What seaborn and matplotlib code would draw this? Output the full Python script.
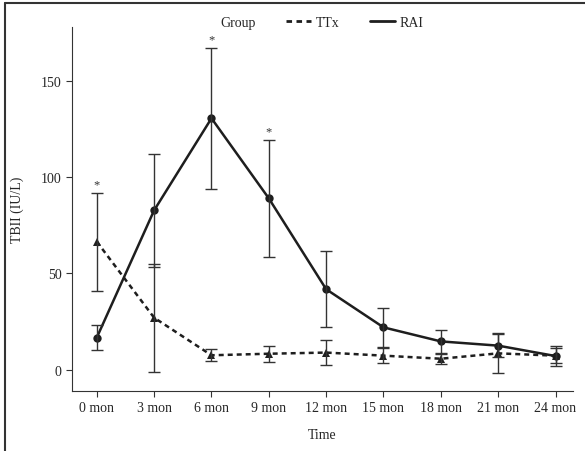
import pandas as pd
import numpy as np
import matplotlib
matplotlib.use("Agg")
import matplotlib.pyplot as plt
from matplotlib.lines import Line2D
import seaborn as sns

months = [0, 3, 6, 9, 12, 15, 18, 21, 24]
tick_labels = [f"{m} mon" for m in months]

ttx_mean = [66.5, 27.0, 7.5, 8.3, 8.9, 7.3, 5.7, 8.5, 7.3]
ttx_err = [25.5, 28.0, 3.2, 4.2, 6.5, 4.0, 2.7, 10.4, 4.0]
rai_mean = [16.7, 82.8, 130.6, 89.0, 41.8, 22.0, 14.7, 12.5, 7.1]
rai_err = [6.3, 29.2, 36.6, 30.4, 19.8, 10.3, 6.0, 6.0, 5.0]

# asterisks above the upper error bar
star_months = [0, 6, 9]
star_tops = [92.0, 167.2, 119.4]

sns.set_style("ticks")
plt.rcParams["font.family"] = ["Liberation Serif", "DejaVu Serif"]

df = pd.DataFrame({
    "Time": months * 2,
    "TBIL": ttx_mean + rai_mean,
    "err": ttx_err + rai_err,
    "Group": ["TTx"] * len(months) + ["RAI"] * len(months),
})

color = "#1e1e1e"
fig = plt.figure(figsize=(5.85, 4.52), dpi=100)
ax = fig.add_axes([0.123, 0.133, 0.856, 0.805])

sns.lineplot(data=df, x="Time", y="TBIL", style="Group", hue="Group",
             palette={"TTx": color, "RAI": color},
             dashes={"TTx": (2, 1.6), "RAI": ""},
             markers={"TTx": "^", "RAI": "o"},
             markersize=6, markeredgewidth=0, linewidth=1.8,
             errorbar=None, legend=False, ax=ax)

for g in ["TTx", "RAI"]:
    sub = df[df["Group"] == g]
    ax.errorbar(sub["Time"], sub["TBIL"], yerr=sub["err"], fmt="none",
                ecolor="#333333", elinewidth=1.0, capsize=4, capthick=1.0)

for m, t in zip(star_months, star_tops):
    ax.text(m, t + 4.5, "*", ha="center", va="center", fontsize=9, color="#333333")

ax.set_xlim(-1.3, 24.9)
ax.set_ylim(-11, 178)
ax.set_xticks(months)
ax.set_xticklabels(tick_labels, fontsize=10)
ax.set_yticks([0, 50, 100, 150])
ax.tick_params(axis="y", labelsize=10)
ax.set_xlabel("Time", fontsize=10, labelpad=10)
ax.set_ylabel("TBII (IU/L)", fontsize=10, labelpad=12)
sns.despine(ax=ax)
for s in ["left", "bottom"]:
    ax.spines[s].set_color("#333333")
ax.tick_params(color="#333333", length=4)

handles = [
    Line2D([], [], color="none"),
    Line2D([], [], color=color, linestyle=(0, (2, 1.6)), linewidth=2),
    Line2D([], [], color=color, linewidth=2),
]
leg = fig.legend(handles, ["Group", "TTx", "RAI"], loc="center",
                 bbox_to_anchor=(0.525, 0.949), ncol=3, frameon=False,
                 fontsize=10, handlelength=1.8, columnspacing=2.2,
                 handletextpad=0.3)
leg.legend_handles[0].set_visible(False)

# figure border (left and top edges)
fig.add_artist(Line2D([0.008, 0.008], [0.0, 0.991], color="#333333", linewidth=1.5,
                      transform=fig.transFigure))
fig.add_artist(Line2D([0.008, 1.0], [0.991, 0.991], color="#333333", linewidth=1.5,
                      transform=fig.transFigure))

fig.savefig("out.png", dpi=100)
